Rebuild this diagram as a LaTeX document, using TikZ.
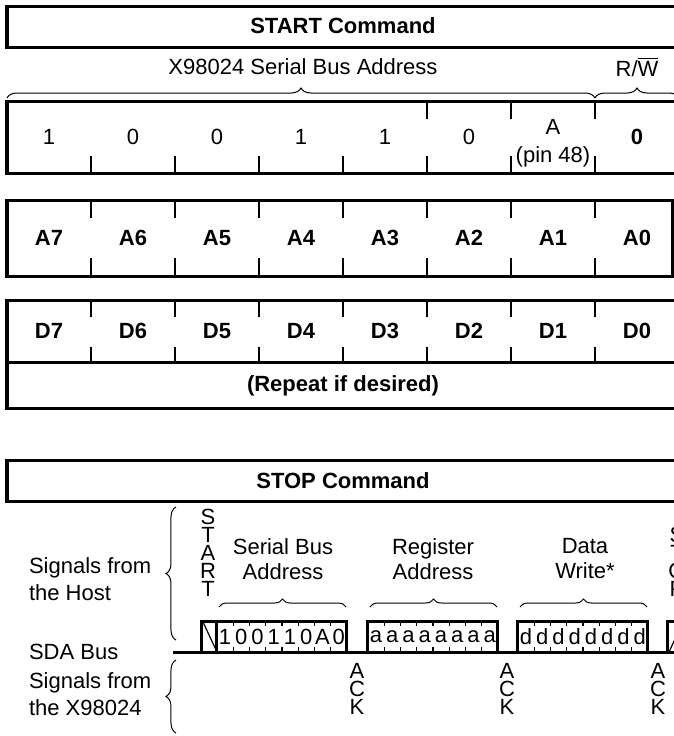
\documentclass[tikz,border=0pt]{standalone}
\usepackage{fontspec}
\setmainfont{Liberation Sans}
\usetikzlibrary{decorations.pathreplacing,positioning}

\begin{document}
\begin{tikzpicture}[
    x=0.5pt, y=-0.5pt,
    frame/.style={draw, line width=1.5pt},
    tick/.style={line width=1.4pt},
    smalltick/.style={line width=0.7pt},
    lbl/.style={font=\fontsize{11}{13}\selectfont},
    bitlbl/.style={font=\bfseries\fontsize{11}{13}\selectfont},
    twoline/.style={align=center, font=\fontsize{11}{12.5}\selectfont},
    sidetext/.style={anchor=west, align=left, font=\fontsize{11}{13.5}\selectfont},
    stack/.style={align=center, font=\fontsize{11}{9}\selectfont, inner sep=0pt},
    curly/.style={decorate, decoration={brace, amplitude=#1}, line width=0.5pt}
]
    \useasboundingbox (0,0) rectangle (674,736);
    \clip (0,0) rectangle (674,736);

    % START command
    \draw[frame] (7,6) rectangle (679,47);
    \node[bitlbl] (start) at (343,26) {START Command};

    % serial bus address byte
    \node[lbl] (addrlbl) at (303,67) {X98024 Serial Bus Address};
    \node[lbl] (rwlbl) at (637,67) {R/$\overline{\mbox{W}}$};
    \draw[curly=5pt] (7,98) -- (595,98);
    \draw[curly=5pt] (595,98) -- (679,98);
    \draw[frame] (7,101) rectangle (679,173);
    \foreach \k in {1,...,7} \draw[tick] (7+84*\k,156) -- (7+84*\k,173);
    \foreach \k in {5,6,7} \draw[tick] (7+84*\k,101) -- (7+84*\k,119);
    \foreach \b [count=\k from 0] in {1,0,0,1,1,0}
        \node[lbl] (sb\k) at (49+84*\k,137) {\b};
    \node[lbl] (sbpin) at (553,127) {A};
    \node[lbl] (sbpinno) at (553,157) {(pin 48)};
    \node[bitlbl] (sbrw) at (637,137) {0};

    % register address byte
    \draw[frame] (7,200) rectangle (673,276);
    \foreach \k in {1,...,7} {
        \draw[tick] (7+84*\k,200) -- (7+84*\k,218);
        \draw[tick] (7+84*\k,258) -- (7+84*\k,276);
    }
    \foreach \i [count=\k from 0] in {7,...,0}
        \node[bitlbl] (ra\i) at (49+84*\k,238) {A\i};

    % data byte
    \draw[frame] (7,300) rectangle (679,408);
    \draw[frame] (7,362) -- (679,362);
    \foreach \k in {1,...,7} {
        \draw[tick] (7+84*\k,300) -- (7+84*\k,317);
        \draw[tick] (7+84*\k,347) -- (7+84*\k,362);
    }
    \foreach \i [count=\k from 0] in {7,...,0}
        \node[bitlbl] (dd\i) at (49+84*\k,331) {D\i};
    \node[bitlbl] (repeat) at (343,386) {(Repeat if desired)};

    % STOP command
    \draw[frame] (7,460) rectangle (679,501);
    \node[bitlbl] (stop) at (343,481) {STOP Command};

    % SDA bus timing
    \node[sidetext] (host) at (22,579) {Signals from\\the Host};
    \node[sidetext] (sda) at (22,652) {SDA Bus};
    \node[sidetext] (slave) at (22,694) {Signals from\\the X98024};
    \draw[curly=5pt] (176,640) -- (176,507);
    \draw[curly=5pt] (176,733) -- (176,660);
    \draw[frame] (173,652) -- (679,652);

    % start bit
    \draw[frame] (202,621) rectangle (217,652);
    \draw[line width=0.6pt] (203,622) -- (217,652);
    \node[stack] (startbit) at (208,553) {S\\T\\A\\R\\T};

    % bytes on the bus
    \foreach \x/\name in {217/sba, 368/reg, 518/dat} {
        \draw[frame] (\x,621) rectangle (\x+130,652);
        \foreach \k in {1,...,7} {
            \draw[smalltick] (\x+16.25*\k,621) -- (\x+16.25*\k,626);
            \draw[smalltick] (\x+16.25*\k,647) -- (\x+16.25*\k,652);
        }
        \draw[curly=4pt] (\x+2,607) -- (\x+129,607);
    }
    \foreach \b [count=\k from 0] in {1,0,0,1,1,0,A,0}
        \node[lbl] (bus\k) at (225+16.25*\k,637) {\b};
    \foreach \k in {0,...,7} {
        \node[lbl] (ra\k) at (376+16.25*\k,637) {a};
        \node[lbl] (dw\k) at (526+16.25*\k,637) {d};
    }
    \node[twoline] (sbalbl) at (283,559) {Serial Bus\\Address};
    \node[twoline] (reglbl) at (433,559) {Register\\Address};
    \node[twoline] (datlbl) at (585,559) {Data\\Write*};

    % acknowledge bits
    \node[stack] (ack1) at (357,689) {A\\C\\K};
    \node[stack] (ack2) at (507,689) {A\\C\\K};
    \node[stack] (ack3) at (658,689) {A\\C\\K};

    % stop bit
    \draw[frame] (668,621) rectangle (683,652);
    \draw[line width=0.6pt] (669,652) -- (683,622);
    \node[stack] (stopbit) at (677,562) {S\\T\\O\\P};

\end{tikzpicture}
\end{document}
